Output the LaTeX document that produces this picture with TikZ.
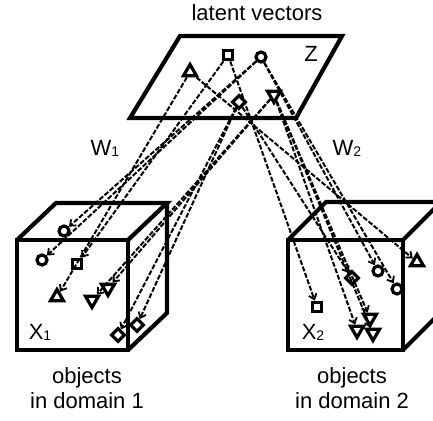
\documentclass[tikz,border=0pt]{standalone}
\usepackage{fontspec}
\setmainfont{Liberation Sans}
\usetikzlibrary{arrows.meta,shapes.geometric}
\tikzset{
  frame/.style={line width=4.2pt, line join=miter},
  mk/.style={draw, fill=white, line width=3.2pt, inner sep=0pt},
  mcirc/.style={mk, circle, minimum size=10pt},
  msq/.style={mk, rectangle, minimum size=9.5pt},
  mup/.style={mk, regular polygon, regular polygon sides=3, minimum size=15pt},
  mdown/.style={mk, regular polygon, regular polygon sides=3, minimum size=15pt, shape border rotate=180},
  mdia/.style={mk, diamond, minimum size=14pt},
  map/.style={line width=2pt, dash pattern=on 5pt off 1.8pt, -{Straight Barb[length=5pt,width=8pt,line width=1.8pt]}},
  lbl/.style={font=\fontsize{22}{25}\selectfont, inner sep=0pt},
}
\newcommand{\sbs}[1]{\raisebox{-0.05em}{\fontsize{14}{14}\selectfont #1}}
\begin{document}
\begin{tikzpicture}[x=1pt,y=-1pt]
\useasboundingbox (0,0) rectangle (433,420);
\clip (0,0) rectangle (433,420);

% latent space plane
\draw[frame] (180,36) -- (342,36) -- (296,118) -- (130,118) -- cycle;

% domain 1 cube
\draw[frame] (17,240) rectangle (128,350);
\draw[frame] (17,240) -- (56,203) -- (167,203) -- (128,240);
\draw[frame] (128,350) -- (167,313) -- (167,203);

% domain 2 cube
\draw[frame] (288,240) rectangle (403,350);
\draw[frame] (288,240) -- (326,202) -- (441,202) -- (403,240);
\draw[frame] (403,350) -- (441,312) -- (441,202);

% labels
\node[lbl] (tz) at (257,13) {latent vectors};
\node[lbl] (lz) at (311,54) {Z};
\node[lbl] (lw1) at (105,148) {W\sbs{1}};
\node[lbl] (lw2) at (347,148) {W\sbs{2}};
\node[lbl] (lx1) at (40,332) {X\sbs{1}};
\node[lbl] (lx2) at (313,332) {X\sbs{2}};
\node[lbl, align=center] (d1) at (87,388) {objects\\in domain 1};
\node[lbl, align=center] (d2) at (352,388) {objects\\in domain 2};

% latent vectors
\node[mup]   (zt) at (190,72) {};
\node[msq]   (zs) at (228,55) {};
\node[mcirc] (zc) at (261,57) {};
\node[mdia]  (zd) at (239,102) {};
\node[mdown] (zv) at (274,95) {};

% objects in domain 1
\node[mcirc] (ac1) at (64,231) {};
\node[mcirc] (ac2) at (42,260) {};
\node[msq]   (as)  at (77,264) {};
\node[mup]   (at)  at (57,297) {};
\node[mdown] (av1) at (92,300) {};
\node[mdown] (av2) at (108,288) {};
\node[mdia]  (ad1) at (118,335) {};
\node[mdia]  (ad2) at (137,325) {};

% objects in domain 2
\node[mup]   (bt)  at (417,262) {};
\node[mcirc] (bc1) at (378,271) {};
\node[mcirc] (bc2) at (397,289) {};
\node[mdia]  (bd)  at (352,278) {};
\node[msq]   (bs)  at (317,307) {};
\node[mdown] (bv1) at (357,330) {};
\node[mdown] (bv2) at (370,318) {};
\node[mdown] (bv3) at (373,333) {};

% mappings W1
\draw[map] (zt) -- (at);
\draw[map] (zs) -- (as);
\draw[map] (zc) -- (ac1);
\draw[map] (zc) -- (ac2);
\draw[map] (zd) -- (ad1);
\draw[map] (zd) -- (ad2);
\draw[map] (zv) -- (av1);
\draw[map] (zv) -- (av2);

% mappings W2
\draw[map] (zt) -- (bt);
\draw[map] (zs) -- (bs);
\draw[map] (zc) -- (bc1);
\draw[map] (zc) -- (bc2);
\draw[map] (zd) -- (bd);
\draw[map] (zv) -- (bv1);
\draw[map] (zv) -- (bv2);
\draw[map] (zv) -- (bv3);
\end{tikzpicture}
\end{document}
